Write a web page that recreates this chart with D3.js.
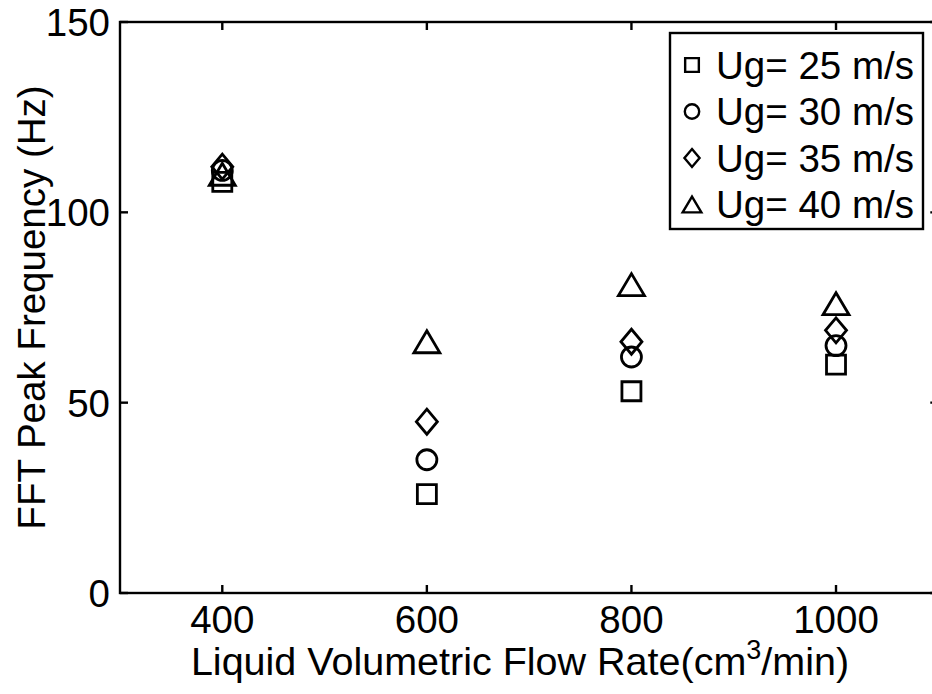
<!DOCTYPE html>
<html>
<head>
<meta charset="utf-8">
<script src="https://cdn.jsdelivr.net/npm/d3@7"></script>
<style>
  body { margin: 0; background: #fff; }
  svg { display: block; font-family: "Liberation Sans", Arial, sans-serif; }
</style>
</head>
<body>
<script>
// data
let flowRates = [400, 600, 800, 1000];
let ug25 = [108, 26, 53, 60];
let ug30 = [111, 35, 62, 65];
let ug35 = [112, 45, 66, 69];
let ug40 = [110, 66, 81, 76];
let seriesNames = ["Ug= 25 m/s", "Ug= 30 m/s", "Ug= 35 m/s", "Ug= 40 m/s"];
let markerTypes = ["square", "circle", "diamond", "triangle"];
let xTicks = [400, 600, 800, 1000];
let yTicks = [0, 50, 100, 150];

let W = 932, H = 694;
let svg = d3.select("body").append("svg").attr("width", W).attr("height", H);

let x = d3.scaleLinear().domain([300, 1100]).range([120, 938.3]);
let y = d3.scaleLinear().domain([0, 150]).range([593, 22]);

// marker outlines, k scales them down for the legend
function marker(type, k) {
  let p = d3.path();
  if (type == "square") {
    let s = 9.5 * k;
    p.rect(-s, -s, 2 * s, 2 * s);
  } else if (type == "circle") {
    p.arc(0, 0, 10 * k, 0, 2 * Math.PI);
  } else if (type == "diamond") {
    let w = 10.5 * k, h = 12.5 * k;
    p.moveTo(0, -h); p.lineTo(w, 0); p.lineTo(0, h); p.lineTo(-w, 0); p.closePath();
  } else {
    let w = 13 * k, h = 11 * k;
    p.moveTo(0, -h); p.lineTo(w, h); p.lineTo(-w, h); p.closePath();
  }
  return p.toString();
}

let tickLen = 8;
let axisG = svg.append("g").attr("stroke", "#000").attr("stroke-width", 2.4);

// box
axisG.append("rect")
  .attr("x", x.range()[0]).attr("y", y.range()[1])
  .attr("width", x.range()[1] - x.range()[0])
  .attr("height", y.range()[0] - y.range()[1])
  .attr("fill", "none");

// ticks pointing inward on all four sides
xTicks.forEach(t => {
  axisG.append("line").attr("x1", x(t)).attr("x2", x(t)).attr("y1", y(0)).attr("y2", y(0) - tickLen);
  axisG.append("line").attr("x1", x(t)).attr("x2", x(t)).attr("y1", y(150)).attr("y2", y(150) + tickLen);
});
yTicks.forEach(t => {
  axisG.append("line").attr("x1", x(300)).attr("x2", x(300) + tickLen).attr("y1", y(t)).attr("y2", y(t));
  axisG.append("line").attr("x1", x(1100)).attr("x2", x(1100) - tickLen).attr("y1", y(t)).attr("y2", y(t));
});

// tick labels
svg.append("g").selectAll("text").data(xTicks).join("text")
  .attr("x", d => x(d)).attr("y", 633)
  .attr("text-anchor", "middle").attr("font-size", 38.5)
  .text(d => d);

svg.append("g").selectAll("text").data(yTicks).join("text")
  .attr("x", 110).attr("y", d => y(d))
  .attr("dy", "0.36em")
  .attr("text-anchor", "end").attr("font-size", 38.5)
  .text(d => d);

// axis titles
let xTitle = svg.append("text")
  .attr("x", 520).attr("y", 675)
  .attr("text-anchor", "middle").attr("font-size", 39.5);
xTitle.append("tspan").text("Liquid Volumetric Flow Rate(cm");
xTitle.append("tspan").attr("font-size", 27).attr("dy", -16).text("3");
xTitle.append("tspan").attr("dy", 16).text("/min)");

svg.append("text")
  .attr("transform", "translate(45," + (y(75)) + ") rotate(-90)")
  .attr("text-anchor", "middle").attr("font-size", 38.5)
  .text("FFT Peak Frequency (Hz)");

// points
let allSeries = [ug25, ug30, ug35, ug40];
allSeries.forEach((vals, i) => {
  svg.append("g").selectAll("path").data(vals).join("path")
    .attr("transform", (d, j) => "translate(" + x(flowRates[j]) + "," + y(d) + ")")
    .attr("d", marker(markerTypes[i], 1))
    .attr("fill", "none").attr("stroke", "#000").attr("stroke-width", 2.8);
});

// legend
let leg = svg.append("g");
leg.append("rect").attr("x", 670).attr("y", 33).attr("width", 253).attr("height", 196)
  .attr("fill", "#fff").attr("stroke", "#000").attr("stroke-width", 2.4);
seriesNames.forEach((name, i) => {
  let cy = 65 + i * 46.5;
  leg.append("path")
    .attr("transform", "translate(692," + cy + ")")
    .attr("d", marker(markerTypes[i], 0.72))
    .attr("fill", "none").attr("stroke", "#000").attr("stroke-width", 2.4);
  leg.append("text").attr("x", 716).attr("y", cy).attr("dy", "0.36em")
    .attr("font-size", 38.5).text(name);
});
</script>
</body>
</html>
